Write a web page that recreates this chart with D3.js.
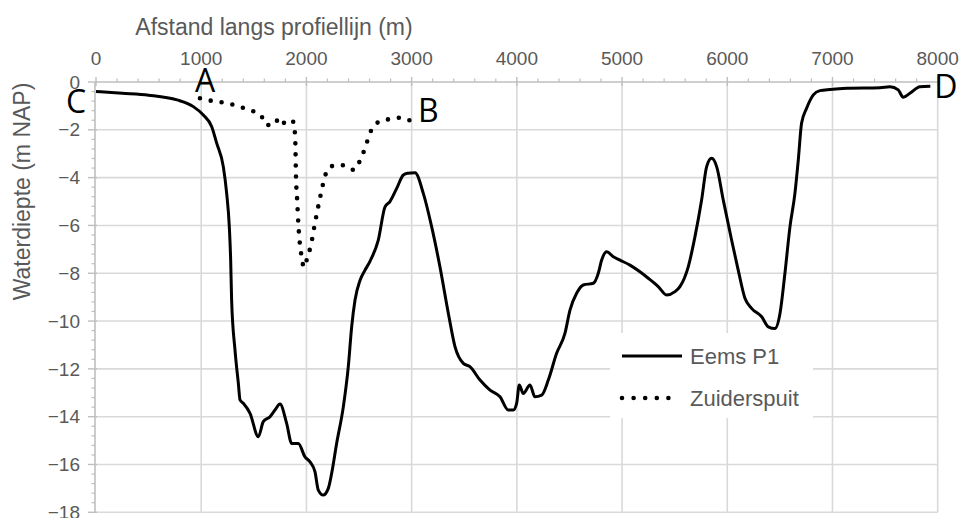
<!DOCTYPE html>
<html>
<head>
<meta charset="utf-8">
<script src="https://cdn.jsdelivr.net/npm/d3@7"></script>
<style>
  body { margin: 0; background: #fff; }
  svg text { font-family: "Liberation Sans", Arial, sans-serif; fill: #595959; }
</style>
</head>
<body>
<div id="chart"></div>
<script>
// Eems P1 profile (distance in m, depth in m NAP)
const eemsX = [0, 250, 500, 770, 925, 1020, 1100, 1147, 1210, 1242, 1267, 1280, 1289, 1321, 1353, 1369, 1400, 1464, 1543, 1590,
  1654, 1701, 1749, 1812, 1860, 1923, 1986, 2034, 2081, 2113, 2160, 2208, 2240, 2287, 2351, 2398, 2430, 2462, 2509, 2557,
  2604, 2683, 2747, 2794, 2858, 2921, 2960, 3032, 3111, 3190, 3269, 3349, 3412, 3491, 3554, 3650, 3745, 3840, 3918, 3966,
  3998, 4023, 4061, 4125, 4172, 4236, 4299, 4378, 4457, 4505, 4568, 4632, 4727, 4774, 4806, 4853, 4917, 4980, 5075, 5170,
  5249, 5344, 5423, 5503, 5550, 5629, 5693, 5756, 5804, 5851, 5899, 5962, 6041, 6104, 6168, 6231, 6327, 6390, 6453, 6501,
  6548, 6596, 6643, 6675, 6706, 6754, 6818, 6881, 6976, 7135, 7451, 7546, 7625, 7672, 7736, 7831, 7930];
const eemsY = [-0.4, -0.47, -0.55, -0.75, -1.03, -1.38, -1.87, -2.56, -3.54, -4.66, -6.05, -7.45, -9.12, -11.21, -12.61, -13.3, -13.44, -13.86, -14.84, -14.21,
  -14.0, -13.72, -13.47, -14.28, -15.12, -15.12, -15.68, -15.89, -16.3, -17.07, -17.28, -17.0, -16.37, -15.12, -13.58, -11.91, -10.24, -9.12, -8.3, -7.87,
  -7.5, -6.61, -5.22, -5.0, -4.45, -3.89, -3.82, -3.8, -4.66, -6.05, -7.73, -9.68, -11.07, -11.77, -11.91, -12.47, -12.89, -13.17, -13.72, -13.72,
  -13.44, -12.68, -13.03, -12.68, -13.17, -13.1, -12.47, -11.35, -10.52, -9.54, -8.84, -8.49, -8.42, -8.0, -7.45, -7.1, -7.31, -7.45, -7.66, -7.94,
  -8.21, -8.56, -8.91, -8.77, -8.56, -7.73, -6.47, -4.94, -3.54, -3.19, -3.54, -4.94, -6.61, -7.87, -9.05, -9.47, -9.82, -10.24, -10.31, -9.68,
  -8.0, -6.05, -4.66, -3.26, -1.73, -1.1, -0.54, -0.36, -0.31, -0.26, -0.24, -0.2, -0.33, -0.64, -0.47, -0.2, -0.18];

// Zuiderspuit profile
const zuidX = [988, 1090, 1194, 1295, 1390, 1489, 1575, 1616, 1692, 1742, 1811, 1875, 1893, 1901, 1912, 1923, 1939, 1955, 1975,
  2011, 2043, 2081, 2122, 2170, 2202, 2287, 2373, 2452, 2509, 2550, 2582, 2620, 2693, 2794, 2896, 2994];
const zuidY = [-0.68, -0.78, -0.85, -0.94, -1.07, -1.21, -1.45, -1.8, -1.8, -1.49, -1.8, -1.66, -2.3, -4.0, -4.94, -5.91, -6.82, -7.31, -7.75,
  -7.31, -6.82, -5.91, -5.0, -4.06, -3.65, -3.47, -3.5, -3.68, -3.29, -2.85, -2.43, -1.98, -1.66, -1.55, -1.49, -1.63];

const xTicks = [0, 1000, 2000, 3000, 4000, 5000, 6000, 7000, 8000];
const yTicks = [0, -2, -4, -6, -8, -10, -12, -14, -16, -18];
const seriesNames = ["Eems P1", "Zuiderspuit"];
const pointLabels = ["A", "B", "C", "D"];

const width = 961, height = 518;
const svg = d3.select("#chart").append("svg")
  .attr("width", width).attr("height", height);

const x = d3.scaleLinear().domain([0, 8000]).range([96, 937.7]);
const y = d3.scaleLinear().domain([0, -18]).range([82, 512.3]);

const gridColor = "#d9d9d9";
const axisColor = "#bfbfbf";

// gridlines
svg.append("g").selectAll("line")
  .data(xTicks.slice(1))
  .enter().append("line")
  .attr("x1", d => x(d)).attr("x2", d => x(d))
  .attr("y1", y(0)).attr("y2", y(-18))
  .attr("stroke", gridColor).attr("stroke-width", 1.6);

svg.append("g").selectAll("line")
  .data(yTicks.slice(1))
  .enter().append("line")
  .attr("y1", d => y(d)).attr("y2", d => y(d))
  .attr("x1", x(0)).attr("x2", x(8000))
  .attr("stroke", gridColor).attr("stroke-width", 1.6);

// top axis
const xMinor = d3.range(0, 8001, 200).filter(d => d % 1000 !== 0);
const xAxis = svg.append("g");
xAxis.append("line")
  .attr("x1", x(0)).attr("x2", x(8000)).attr("y1", y(0)).attr("y2", y(0))
  .attr("stroke", axisColor).attr("stroke-width", 1.6);
xAxis.selectAll(".major").data(xTicks).enter().append("line")
  .attr("x1", d => x(d)).attr("x2", d => x(d))
  .attr("y1", y(0) - 5).attr("y2", y(0) + 4)
  .attr("stroke", axisColor).attr("stroke-width", 1.4);
xAxis.selectAll(".minor").data(xMinor).enter().append("line")
  .attr("x1", d => x(d)).attr("x2", d => x(d))
  .attr("y1", y(0) - 3.5).attr("y2", y(0))
  .attr("stroke", axisColor).attr("stroke-width", 1.2);
xAxis.selectAll("text").data(xTicks).enter().append("text")
  .attr("x", d => x(d)).attr("y", y(0) - 17)
  .attr("text-anchor", "middle")
  .style("font-size", "19px")
  .text(d => d);

// left axis
const yMinor = d3.range(0, -18.01, -0.4).filter(d => Math.abs(Math.round(d * 10) % 20) !== 0);
const yAxis = svg.append("g");
yAxis.append("line")
  .attr("x1", x(0) - 1).attr("x2", x(0) - 1).attr("y1", y(0)).attr("y2", y(-18))
  .attr("stroke", axisColor).attr("stroke-width", 1.6);
yAxis.selectAll(".major").data(yTicks).enter().append("line")
  .attr("y1", d => y(d)).attr("y2", d => y(d))
  .attr("x1", x(0) - 8).attr("x2", x(0) + 1)
  .attr("stroke", axisColor).attr("stroke-width", 1.4);
yAxis.selectAll(".minor").data(yMinor).enter().append("line")
  .attr("y1", d => y(d)).attr("y2", d => y(d))
  .attr("x1", x(0) - 4.5).attr("x2", x(0) - 1)
  .attr("stroke", axisColor).attr("stroke-width", 1.2);
yAxis.selectAll("text").data(yTicks).enter().append("text")
  .attr("x", 80).attr("y", d => y(d))
  .attr("dy", "0.35em")
  .attr("text-anchor", "end")
  .style("font-size", "19px")
  .text(d => d3.format("d")(d));

// axis titles
svg.append("text")
  .attr("x", 274).attr("y", 35)
  .attr("text-anchor", "middle")
  .style("font-size", "23px")
  .text("Afstand langs profiellijn (m)");

svg.append("text")
  .attr("transform", "translate(30,191.5) rotate(-90)")
  .attr("text-anchor", "middle")
  .style("font-size", "23px")
  .text("Waterdiepte (m NAP)");

// series
const line = d3.line()
  .x(d => x(d[0])).y(d => y(d[1]))
  .curve(d3.curveMonotoneX);

const eems = d3.zip(eemsX, eemsY);
const zuid = d3.zip(zuidX, zuidY);

svg.append("path")
  .datum(eems)
  .attr("d", line)
  .attr("fill", "none")
  .attr("stroke", "#000")
  .attr("stroke-width", 3)
  .attr("stroke-linejoin", "round");

svg.append("path")
  .datum(zuid)
  .attr("d", line)
  .attr("fill", "none")
  .attr("stroke", "#000")
  .attr("stroke-width", 4.6)
  .attr("stroke-linecap", "round")
  .attr("stroke-dasharray", "0,11");

// legend
const legend = svg.append("g");
legend.append("rect")
  .attr("x", 610).attr("y", 333).attr("width", 203).attr("height", 85)
  .attr("fill", "#fff");
const rows = legend.selectAll(".row").data(seriesNames).enter().append("g")
  .attr("transform", (d, i) => `translate(0,${356 + i * 42})`);
rows.append("line")
  .attr("x1", 622).attr("x2", (d, i) => i ? 680 : 682)
  .attr("y1", 0).attr("y2", 0)
  .attr("stroke", "#000")
  .attr("stroke-width", (d, i) => i ? 4.6 : 3)
  .attr("stroke-linecap", (d, i) => i ? "round" : "butt")
  .attr("stroke-dasharray", (d, i) => i ? "0,11.6" : null);
rows.append("text")
  .attr("x", 690).attr("y", 0).attr("dy", "0.35em")
  .style("font-size", "22px")
  .text(d => d);

// profile end labels
const labelPos = [
  { t: pointLabels[0], x: x(1000) + 4, y: 92, anchor: "middle" },
  { t: pointLabels[1], x: x(2994) + 7, y: 122, anchor: "start" },
  { t: pointLabels[2], x: x(0) - 20, y: 113, anchor: "middle" },
  { t: pointLabels[3], x: x(7930) + 4, y: 98, anchor: "start" }
];
svg.append("g").selectAll("text").data(labelPos).enter().append("text")
  .attr("x", d => d.x).attr("y", d => d.y)
  .attr("text-anchor", d => d.anchor)
  .style("font-family", "'Open Sans', 'Noto Sans', sans-serif")
  .style("font-size", "32px")
  .style("fill", "#000")
  .text(d => d.t);
</script>
</body>
</html>
